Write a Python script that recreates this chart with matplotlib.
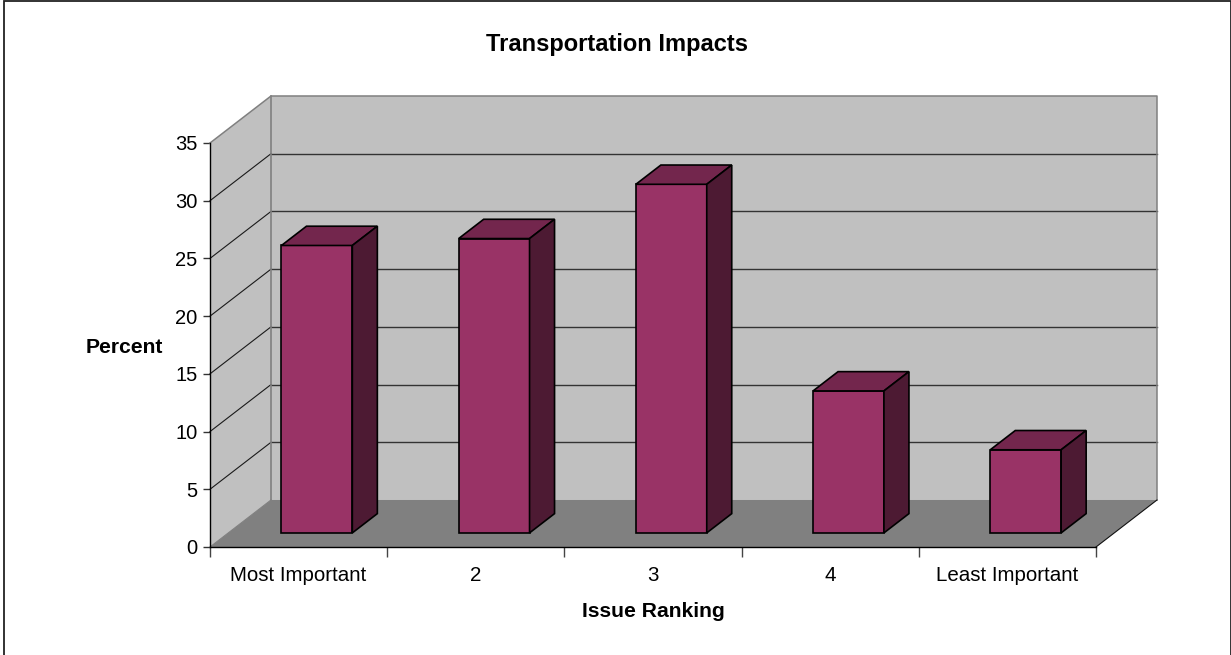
import matplotlib
matplotlib.use('Agg')
import matplotlib.pyplot as plt
from matplotlib.patches import Rectangle

plt.rcParams['font.family'] = ['Liberation Sans', 'DejaVu Sans']

categories = ['Most Important', '2', '3', '4', 'Least Important']
values = [24.9, 25.5, 30.2, 12.3, 7.2]
y_ticks = [0, 5, 10, 15, 20, 25, 30, 35]

W, H = 1231, 655
LEFT, RIGHT, BOTTOM, TOP = 210, 1096, 547, 143

# depth of the fake 3d box, in data units
DX = 61 / 177.2
DY = 47 / 11.54
BAR_W = 0.4
BAR_D0 = 0.30
BAR_D1 = 0.71

fig = plt.figure(figsize=(W / 100, H / 100), dpi=100)
ax = fig.add_axes([LEFT / W, 1 - BOTTOM / H, (RIGHT - LEFT) / W, (BOTTOM - TOP) / H])
ax.set_xlim(0, 5)
ax.set_ylim(0, 35)
ax.patch.set_visible(False)

# outer border, the bottom edge falls off the picture
fig.add_artist(Rectangle((4 / W, -3 / H), (W - 4.5) / W, (H + 1.5) / H, transform=fig.transFigure,
                         fill=False, edgecolor='#222222', linewidth=1.3))

# walls and floor
ymax = y_ticks[-1]
ax.fill([DX, 5 + DX, 5 + DX, DX], [DY, DY, ymax + DY, ymax + DY], color='#C0C0C0', lw=0, clip_on=False, zorder=1)
ax.fill([0, DX, DX, 0], [0, DY, ymax + DY, ymax], color='#C0C0C0', lw=0, clip_on=False, zorder=1)
ax.fill([0, 5, 5 + DX, DX], [0, 0, DY, DY], color='#808080', lw=0, clip_on=False, zorder=2)

# gridlines
for y in y_ticks[1:-1]:
    ax.plot([0, DX], [y, y + DY], color='#1a1a1a', lw=0.8, clip_on=False, zorder=2)
    ax.plot([DX, 5 + DX], [y + DY, y + DY], color='#333333', lw=1.0, clip_on=False, zorder=2)
ax.plot([0, DX, 5 + DX, 5 + DX], [ymax, ymax + DY, ymax + DY, DY], color='#808080', lw=1.1, clip_on=False, zorder=2)
ax.plot([DX, DX], [DY, ymax + DY], color='#808080', lw=1.2, clip_on=False, zorder=2)
ax.plot([5, 5 + DX], [0, DY], color='#111111', lw=0.8, clip_on=False, zorder=3)
ax.plot([0, DX], [0, DY], color='#808080', lw=0.8, clip_on=False, zorder=3)

# bars, drawn as three faces
for i, v in enumerate(values):
    x0 = i + 0.5 - BAR_W / 2 + BAR_D0 * DX
    x1 = x0 + BAR_W
    y0 = BAR_D0 * DY
    y1 = y0 + v
    ox = (BAR_D1 - BAR_D0) * DX
    oy = (BAR_D1 - BAR_D0) * DY
    ax.fill([x0, x1, x1, x0], [y0, y0, y1, y1], facecolor='#993366', edgecolor='black', lw=1.2, clip_on=False, zorder=5)
    ax.fill([x0, x1, x1 + ox, x0 + ox], [y1, y1, y1 + oy, y1 + oy], facecolor='#73264D', edgecolor='black', lw=1.2, clip_on=False, zorder=5)
    ax.fill([x1, x1 + ox, x1 + ox, x1], [y0, y0 + oy, y1 + oy, y1], facecolor='#4D1A33', edgecolor='black', lw=1.2, clip_on=False, zorder=5)

for s in ['top', 'right']:
    ax.spines[s].set_visible(False)
for s in ['left', 'bottom']:
    ax.spines[s].set_linewidth(1.0)
    ax.spines[s].set_zorder(4)

ax.set_yticks(y_ticks)
ax.tick_params(axis='y', length=5, width=1.0, pad=4, labelsize=14.5, color='#333333')
ax.set_xticks(range(6))
ax.set_xticklabels([])
ax.tick_params(axis='x', which='major', length=7, width=1.0, color='#444444')
ax.set_xticks([i + 0.5 for i in range(5)], minor=True)
ax.set_xticklabels(categories, minor=True, fontsize=14.8)
ax.tick_params(axis='x', which='minor', length=0, pad=13.5)

fig.text(617 / W, 1 - 51 / H, 'Transportation Impacts', ha='center', va='baseline', fontsize=17, fontweight='bold')
fig.text(124.5 / W, 1 - 353 / H, 'Percent', ha='center', va='baseline', fontsize=15.2, fontweight='bold')
fig.text(653.5 / W, 1 - 617 / H, 'Issue Ranking', ha='center', va='baseline', fontsize=15.2, fontweight='bold')

fig.savefig('out.png', dpi=100)
